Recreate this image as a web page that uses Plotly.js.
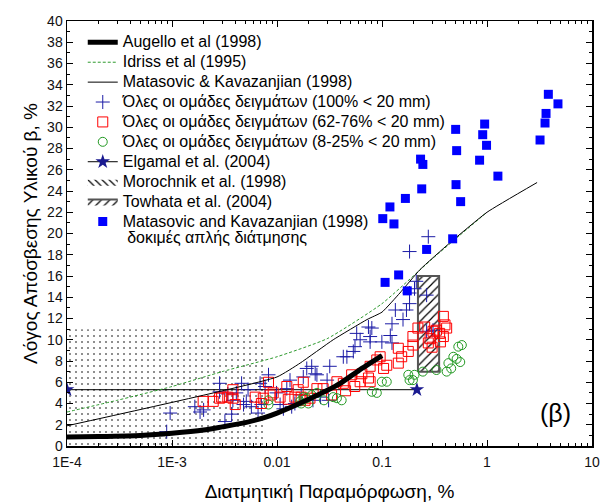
<!DOCTYPE html>
<html>
<head>
<meta charset="utf-8">
<script src="https://cdn.plot.ly/plotly-3.0.1.min.js"></script>
<style>html,body{margin:0;padding:0;background:#fff;}</style>
</head>
<body>
<div id="chart" style="width:601px;height:504px;"></div>
<script>
// ---- Data ----
const augelloX = [1e-4, 2e-4, 5e-4, 1e-3, 2e-3, 3e-3, 5e-3, 0.0077, 0.01, 0.02, 0.04, 0.06, 0.1];
const augelloY = [0.85, 0.9, 1.0, 1.2, 1.5, 1.8, 2.2, 2.7, 3.1, 4.4, 5.9, 7.1, 8.5];

const idrissX = [1e-4, 3e-4, 1e-3, 3e-3, 0.01, 0.03, 0.1, 0.3, 1];
const idrissY = [3.2, 4.3, 5.6, 7.0, 8.4, 10.1, 13.4, 17.6, 22.0];

const matasovicX = [1e-4, 0.01, 0.0166, 0.0343, 0.0719, 0.1, 0.148, 0.23, 0.44, 1, 3];
const matasovicY = [1.9, 6.5, 7.8, 10.0, 11.9, 12.6, 14.4, 16.6, 19.1, 22.0, 24.8];

const elgamalX = [1e-4, 0.215];
const elgamalY = [5.3, 5.3];

const morochnikX = [1e-4, 0.0077, 0.0077, 1e-4, 1e-4];
const morochnikY = [0, 0, 11, 11, 0];

const towhataX = [0.22, 0.35, 0.35, 0.22, 0.22];
const towhataY = [7, 7, 16, 16, 7];

const crossX = [0.00089, 0.00096, 0.00165, 0.00185, 0.0020, 0.00284, 0.00284, 0.0034, 0.00319, 0.0037,
  0.0038, 0.0041, 0.0046, 0.0048, 0.0051, 0.0053, 0.0057, 0.0066, 0.0069, 0.0071, 0.0077, 0.0083,
  0.0099, 0.0107, 0.0115, 0.0124, 0.0133, 0.0138, 0.0148, 0.017, 0.0178, 0.0192, 0.0214, 0.022, 0.0231,
  0.024, 0.026, 0.03, 0.031, 0.0318, 0.0428, 0.0463, 0.0533, 0.0553, 0.0574, 0.0619, 0.0743, 0.0771,
  0.08, 0.0771, 0.0997, 0.120, 0.1245, 0.1245, 0.134, 0.1585, 0.171, 0.183, 0.183, 0.204, 0.212,
  0.266, 0.266, 0.306, 0.183, 0.276];
const crossY = [1.35, 3.1, 3.7, 3.2, 3.4, 5.1, 5.9, 4.9, 2.3, 3.0,
  4.3, 5.0, 5.9, 3.9, 4.2, 5.3, 3.7, 3.1, 5.9, 3.9, 5.6, 6.7,
  5.0, 3.9, 3.5, 5.4, 6.2, 3.7, 4.0, 4.8, 6.5, 7.3, 7.5, 4.3, 6.8,
  6.7, 4.6, 6.2, 4.3, 7.5, 8.4, 8.4, 8.9, 9.35, 10.6, 10.0, 11.2, 10.3,
  11.1, 9.8, 9.8, 10.4, 9.7, 11.5, 12.8, 11.9, 12.8, 13.4, 14.4, 14.8, 15.5,
  14.2, 10.8, 10.9, 18.3, 19.7];

const redX = [0.00198, 0.00247, 0.00284, 0.00297, 0.0034, 0.0038, 0.0038, 0.004, 0.0062, 0.0071,
  0.0074, 0.0083, 0.0086, 0.0092, 0.0107, 0.0124, 0.0128, 0.0148, 0.0159, 0.0178, 0.0185, 0.017,
  0.0206, 0.024, 0.0275, 0.0331, 0.0372, 0.0428, 0.045, 0.0514, 0.055, 0.0619, 0.0643, 0.0743, 0.0771,
  0.0771, 0.0892, 0.096, 0.1035, 0.111, 0.143, 0.143, 0.154, 0.178, 0.197, 0.197, 0.22, 0.255,
  0.276, 0.287, 0.3, 0.306, 0.33, 0.354, 0.36, 0.384, 0.398, 0.384, 0.413];
const redY = [4.2, 4.2, 4.5, 4.6, 4.6, 5.3, 4.5, 3.9, 4.6, 4.0,
  4.5, 6.0, 4.8, 5.0, 4.6, 5.6, 4.4, 4.6, 5.3, 6.0, 4.3, 4.6,
  4.5, 5.4, 5.4, 4.8, 6.05, 5.9, 5.2, 6.7, 5.6, 6.05, 6.8, 6.4, 7.5,
  6.05, 8.1, 8.4, 7.3, 7.6, 7.8, 9.2, 8.4, 8.9, 10.3, 9.5, 11.1, 11.2,
  9.7, 10.1, 9.3, 10.8, 10.9, 10.6, 9.8, 12.2, 11.4, 10.3, 11.1];

const greenX = [0.0083, 0.0083, 0.0166, 0.017, 0.0178, 0.0192, 0.0199, 0.0214, 0.024, 0.028,
  0.0343, 0.0372, 0.0413, 0.08, 0.0892, 0.0997, 0.111, 0.178, 0.183, 0.197, 0.204, 0.245,
  0.33, 0.413, 0.429, 0.456, 0.478, 0.514, 0.556, 0.533, 0.576];
const greenY = [4.3, 3.9, 4.2, 4.0, 4.6, 4.5, 4.0, 4.8, 5.0, 4.3,
  4.6, 4.5, 4.3, 5.1, 5.0, 6.05, 6.05, 6.7, 6.2, 6.2, 6.7, 7.0,
  7.15, 7.0, 7.8, 7.3, 8.4, 8.2, 7.9, 9.35, 9.5];

const shearX = [0.107, 0.144, 0.174, 0.266, 0.1017, 0.119, 0.13, 0.167, 0.239, 0.233, 0.245,
  0.471, 0.503, 0.514, 0.507, 0.561, 0.85, 0.91, 0.95, 0.99, 1.27, 3.2, 3.57, 3.65, 3.84, 4.74];
const shearY = [15.4, 16.1, 14.6, 18.5, 21.4, 22.5, 20.9, 23.3, 24.2, 27.0, 26.5,
  19.5, 29.8, 27.8, 24.6, 23.0, 26.9, 29.3, 30.3, 28.3, 25.4, 28.8, 30.4, 31.3, 33.1, 32.2];

const xTickVals = [1e-4, 1e-3, 0.01, 0.1, 1, 10];
const xTickText = ['1E-4', '1E-3', '0.01', '0.1', '1', '10'];

const names = {
  augello: 'Augello et al (1998)',
  idriss: 'Idriss et al (1995)',
  matasovic: 'Matasovic &amp; Kavazanjian (1998)',
  cross: 'Όλες οι ομάδες δειγμάτων (100% &lt; 20 mm)',
  red: 'Όλες οι ομάδες δειγμάτων (62-76% &lt; 20 mm)',
  green: 'Όλες οι ομάδες δειγμάτων (8-25% &lt; 20 mm)',
  elgamal: 'Elgamal et al. (2004)',
  morochnik: 'Morochnik et al. (1998)',
  towhata: 'Towhata et al. (2004)',
  shear: 'Matasovic and Kavazanjian (1998)',
  shear2: '\u00a0δοκιμές απλής διάτμησης'
};
function big(t) { return '<span style="font-size:16px">' + t + '</span>'; }

// minor tick positions (axis decoration)
const minorX = [];
for (let e = -4; e < 1; e++) for (let d = 2; d <= 9; d++) minorX.push(d * Math.pow(10, e));

const traces = [
  { x: morochnikX, y: morochnikY, mode: 'lines', fill: 'toself', line: {width: 0, color: 'rgba(0,0,0,0)'},
    fillcolor: 'rgba(255,255,255,0)', fillpattern: {shape: '.', size: 6, solidity: 0.06, fgcolor: '#000', bgcolor: 'rgba(255,255,255,0)'},
    showlegend: false, hoverinfo: 'skip' },
  { x: [null], y: [null], mode: 'lines', fill: 'toself', name: big(names.morochnik), legendrank: 8,
    line: {width: 0, color: 'rgba(0,0,0,0)'}, fillcolor: 'rgba(255,255,255,0)',
    fillpattern: {shape: '\\', size: 5, solidity: 0.25, fgcolor: '#000', bgcolor: '#fff'} },
  { x: towhataX, y: towhataY, mode: 'lines', fill: 'toself', name: big(names.towhata), legendrank: 9,
    line: {width: 2, color: '#555'}, fillcolor: '#fff',
    fillpattern: {shape: '/', size: 6, solidity: 0.2, fgcolor: '#000', bgcolor: '#fff'} },
  { x: elgamalX, y: elgamalY, mode: 'lines+markers', name: big(names.elgamal), legendrank: 7,
    line: {width: 1, color: '#000'}, marker: {symbol: 'star', size: 11, color: '#1a1a90'} },
  { x: crossX, y: crossY, mode: 'markers', name: big(names.cross), legendrank: 4,
    marker: {symbol: 'cross-thin-open', size: 10, color: '#1c1ca6', line: {width: 1, color: '#1c1ca6'}} },
  { x: redX, y: redY, mode: 'markers', name: big(names.red), legendrank: 5,
    marker: {symbol: 'square-open', size: 10, color: '#ff0000', line: {width: 1, color: '#ff0000'}} },
  { x: greenX, y: greenY, mode: 'markers', name: big(names.green), legendrank: 6,
    marker: {symbol: 'circle-open', size: 9, color: '#229922', line: {width: 1, color: '#229922'}} },
  { x: augelloX, y: augelloY, mode: 'lines', name: big(names.augello), legendrank: 1,
    line: {width: 5, color: '#000', shape: 'spline', smoothing: 0.6} },
  { x: idrissX, y: idrissY, mode: 'lines', name: big(names.idriss), legendrank: 2,
    line: {width: 1, color: '#2e9a2e', dash: '3px,2px', shape: 'spline', smoothing: 0.5} },
  { x: matasovicX, y: matasovicY, mode: 'lines', name: big(names.matasovic), legendrank: 3,
    line: {width: 1, color: '#000', shape: 'spline', smoothing: 0.4} },
  { x: shearX, y: shearY, mode: 'markers', name: big(names.shear) + '<br>' + big(names.shear2), legendrank: 10,
    marker: {symbol: 'square', size: 9, color: '#0000ff'} }
];

const axisCommon = {
  showgrid: false, zeroline: false, showline: true, linecolor: '#000', linewidth: 1.5,
  mirror: 'allticks', ticks: 'inside', ticklen: 6, tickwidth: 1, tickcolor: '#000',
  tickfont: {family: 'Arial, Liberation Sans, sans-serif', size: 14, color: '#111'}
};

const layout = {
  width: 601, height: 504,
  margin: {l: 67, r: 9, t: 21, b: 58},
  paper_bgcolor: '#fff', plot_bgcolor: '#fff',
  font: {family: 'Arial, Liberation Sans, sans-serif', color: '#000'},
  showlegend: true,
  legend: {x: 0.03, y: 0.985, xanchor: 'left', yanchor: 'top', bgcolor: 'rgba(0,0,0,0)',
    borderwidth: 0, font: {size: 13, color: '#000'}, valign: 'top', traceorder: 'normal'},
  xaxis: Object.assign({}, axisCommon, {
    type: 'log', range: [-4, 1], tickmode: 'array', tickvals: xTickVals, ticktext: xTickText,
    ticklabelstandoff: 3,
    minor: {tickmode: 'array', tickvals: minorX, ticks: 'inside', ticklen: 3, tickcolor: '#000', showgrid: false},
    title: {text: 'Διατμητική Παραμόρφωση, %', font: {size: 19}, standoff: 15}
  }),
  yaxis: Object.assign({}, axisCommon, {
    range: [0, 40], tickmode: 'linear', tick0: 0, dtick: 2,
    minor: {dtick: 1, ticks: 'inside', ticklen: 3, tickcolor: '#000', showgrid: false},
    title: {text: 'Λόγος Απόσβεσης Υλικού β, %', font: {size: 19}, standoff: 4}
  }),
  annotations: [{xref: 'paper', yref: 'paper', x: 0.93, y: 0.078, text: '(β)', showarrow: false,
    font: {size: 25, color: '#000'}, xanchor: 'center', yanchor: 'middle'}]
};

Plotly.newPlot('chart', traces, layout, {displayModeBar: false, staticPlot: true});
</script>
</body>
</html>
